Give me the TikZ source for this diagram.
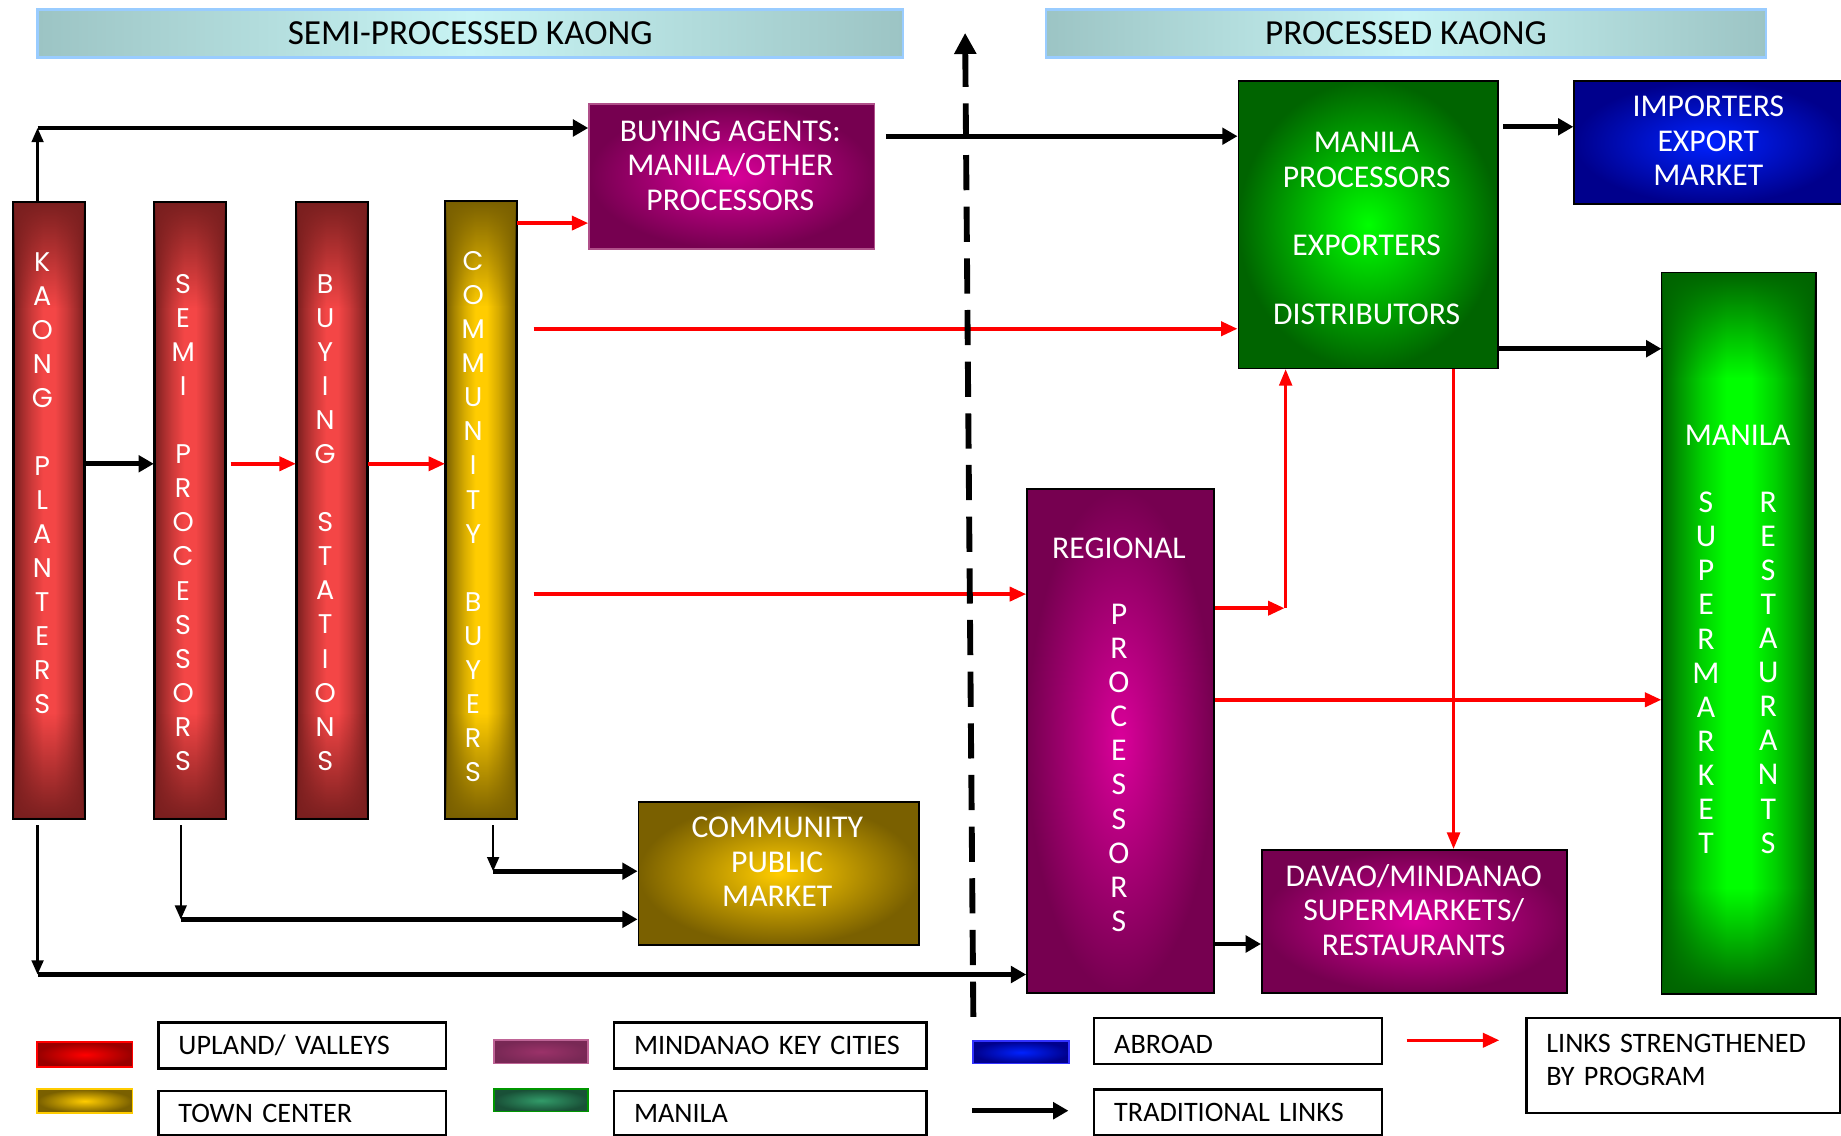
\documentclass[tikz,border=0pt]{standalone}
\usepackage{fontspec}
\setmainfont{Carlito}
\newfontfamily\geofont{Poppins}
\usetikzlibrary{arrows.meta,calc,fadings}
\definecolor{rdark}{HTML}{7A1F1F}
\definecolor{rlight}{HTML}{F44646}
\definecolor{gdark}{HTML}{7A6000}
\definecolor{glight}{HTML}{FFCC00}
\definecolor{mdark}{HTML}{760050}
\definecolor{mlight}{HTML}{DA009A}
\definecolor{grdark}{HTML}{006400}
\definecolor{grlight}{HTML}{00FF00}
\definecolor{bdark}{HTML}{00008C}
\definecolor{blight}{HTML}{0022FF}
\definecolor{hdark}{HTML}{9CC4C4}
\definecolor{hlight}{HTML}{C8F4F4}
\definecolor{hborder}{HTML}{99CCFF}
\definecolor{arrred}{HTML}{FF0000}
\definecolor{agborder}{HTML}{B0508A}
\colorlet{rmA}{rdark!65!rlight}
\colorlet{rmB}{rdark!30!rlight}
\colorlet{gmA}{gdark!65!glight}
\colorlet{gmB}{gdark!30!glight}
\colorlet{grmA}{grdark!65!grlight}
\colorlet{grmB}{grdark!30!grlight}
\pgfdeclarehorizontalshading{redcolsh}{100bp}{color(0bp)=(rdark); color(25bp)=(rdark); color(31bp)=(rmA); color(38bp)=(rmB); color(46bp)=(rlight); color(54bp)=(rlight); color(62bp)=(rmB); color(69bp)=(rmA); color(75bp)=(rdark); color(100bp)=(rdark)}
\pgfdeclarehorizontalshading{goldcolsh}{100bp}{color(0bp)=(gdark); color(25bp)=(gdark); color(31bp)=(gmA); color(38bp)=(gmB); color(46bp)=(glight); color(54bp)=(glight); color(62bp)=(gmB); color(69bp)=(gmA); color(75bp)=(gdark); color(100bp)=(gdark)}
\pgfdeclarehorizontalshading{greencolsh}{100bp}{color(0bp)=(grdark); color(25bp)=(grdark); color(31bp)=(grmA); color(38bp)=(grmB); color(46bp)=(grlight); color(54bp)=(grlight); color(62bp)=(grmB); color(69bp)=(grmA); color(75bp)=(grdark); color(100bp)=(grdark)}
\begin{document}
\begin{tikzpicture}[x=1pt,y=-1pt,
  box/.style={draw=black, line width=1.5pt, inner sep=0pt, anchor=north west},
  hdr/.style={box, draw=hborder, line width=2pt, left color=hdark, right color=hdark, middle color=hlight, font=\fontsize{30}{32}\selectfont},
  redcol/.style={box, shading=redcolsh},
  goldcol/.style={box, shading=goldcolsh},
  magbox/.style={box, inner color=mlight, outer color=mdark},
  greenbox/.style={box, inner color=grlight, outer color=grdark},
  greencol/.style={box, shading=greencolsh},
  bluebox/.style={box, inner color=blight, outer color=bdark},
  goldbox/.style={box, inner color=glight, outer color=gdark},
  vtxt/.style={text=white, align=center, inner sep=0pt, font=\geofont\fontsize{23}{29}\selectfont},
  ctxt/.style={text=white, align=center, inner sep=0pt, font=\fontsize{27}{29}\selectfont},
  btxt/.style={text=white, align=center, inner sep=0pt, font=\fontsize{27}{29.5}\selectfont},
  lgbox/.style={draw=black, line width=2pt, fill=white, anchor=north west, inner xsep=17pt, inner ysep=0pt, align=left, font=\fontsize{24}{28}\selectfont},
  swatch/.style={anchor=north west, inner sep=0pt, line width=1.5pt},
  rim/.style={draw=black, line width=1.5pt},
  blk/.style={draw=black, line width=4pt, -{Triangle[length=13pt,width=14pt]}},
  blkthin/.style={draw=black, line width=2pt, -{Triangle[length=12pt,width=10pt]}},
  redarr/.style={draw=arrred, line width=3pt, -{Triangle[length=14pt,width=12pt]}},
  redthin/.style={draw=arrred, line width=2.2pt, -{Triangle[length=14pt,width=11pt]}},
  divider/.style={draw=black, line width=5pt, dash pattern=on 30pt off 14pt, -{Triangle[length=18pt,width=18pt]}}
]
\useasboundingbox (0,0) rectangle (1568,967);

% headers
\node[hdr, minimum width=737pt, minimum height=41pt] (h1) at (31,7) {SEMI-PROCESSED KAONG};
\node[hdr, minimum width=613pt, minimum height=41pt] (h2) at (890,7) {PROCESSED KAONG};

% columns
\node[redcol, minimum width=60pt, minimum height=524pt] (kp) at (11,172) {};
\node[redcol, minimum width=60pt, minimum height=524pt] (sp) at (131,172) {};
\node[redcol, minimum width=60pt, minimum height=524pt] (bs) at (252,172) {};
\node[goldcol, minimum width=60pt, minimum height=525pt] (cb) at (379,171) {};
\node[greencol, minimum width=130pt, minimum height=613pt] (ms) at (1415,232) {};
\foreach \c/\col in {kp/rdark, sp/rdark, bs/rdark, cb/gdark, ms/grdark} {
  \fill[\col, path fading=south] (\c.north west) rectangle ($(\c.north east)+(0,90)$);
  \fill[\col, path fading=north] (\c.south west) rectangle ($(\c.south east)+(0,-90)$);
  \draw[rim] (\c.north west) rectangle (\c.south east);
}
\node[vtxt] (kpt) at (36,411.5) {K\\A\\O\\N\\G\\[29pt]P\\L\\A\\N\\T\\E\\R\\S};
\node[vtxt] (spt) at (156,445) {S\\E\\M\\I\\[29pt]P\\R\\O\\C\\E\\S\\S\\O\\R\\S};
\node[vtxt] (bst) at (277,445) {B\\U\\Y\\I\\N\\G\\[29pt]S\\T\\A\\T\\I\\O\\N\\S};
\node[vtxt] (cbt) at (403,440) {C\\O\\M\\M\\U\\N\\I\\T\\Y\\[29pt]B\\U\\Y\\E\\R\\S};
\node[ctxt] (mst1) at (1480,371) {MANILA};
\node[ctxt] (mst2) at (1453,573) {S\\U\\P\\E\\R\\M\\A\\R\\K\\E\\T};
\node[ctxt] (mst3) at (1506,573) {R\\E\\S\\T\\A\\U\\R\\A\\N\\T\\S};

% boxes
\node[magbox, draw=agborder, minimum width=243pt, minimum height=123pt] (ag) at (501,88) {};
\node[btxt] (agt) at (622,141) {BUYING AGENTS:\\MANILA/OTHER\\PROCESSORS};
\node[greenbox, minimum width=221pt, minimum height=245pt] (mp) at (1054,68) {};
\node[btxt] (mpt) at (1164,194.5) {MANILA\\PROCESSORS\\[29pt]EXPORTERS\\[29pt]DISTRIBUTORS};
\node[bluebox, minimum width=232pt, minimum height=105pt] (im) at (1340,68) {};
\node[btxt] (imt) at (1455,120) {IMPORTERS\\EXPORT\\MARKET};
\node[magbox, minimum width=159pt, minimum height=429pt] (rp) at (874,416) {};
\node[ctxt] (rpt1) at (953,467) {REGIONAL};
\node[ctxt] (rpt2) at (953,654) {P\\R\\O\\C\\E\\S\\S\\O\\R\\S};
\node[goldbox, minimum width=239pt, minimum height=122pt] (cm) at (543,682) {};
\node[btxt] (cmt) at (662,734) {COMMUNITY\\PUBLIC\\MARKET};
\node[magbox, minimum width=260pt, minimum height=122pt] (dv) at (1074,723) {};
\node[btxt] (dvt) at (1204,775) {DAVAO/MINDANAO\\SUPERMARKETS/\\RESTAURANTS};

% levels
\coordinate (yB) at (0,116);
\coordinate (yC) at (0,108);
\coordinate (yD) at (0,297);
\coordinate (yE) at (0,395);
\coordinate (yF) at (0,190);
\coordinate (yG) at (0,280);
\coordinate (yH) at (0,506);
\coordinate (yJ) at (0,596);
\coordinate (yK) at (0,804);
\coordinate (yO) at (0,703);
\coordinate (xQ) at (1238,0);

% black links
\coordinate (c1) at (32,109);
\draw[blkthin] (kp.north west -| c1) -- (c1);
\draw[blk] (c1) -- (ag.west |- c1);
\draw[blk] ($(ag.east |- yB)+(9,0)$) -- (mp.west |- yB);
\draw[blk] ($(mp.east |- yC)+(4,0)$) -- (im.west |- yC);
\draw[blk] (mp.east |- yD) -- (ms.west |- yD);
\draw[blk] (kp.east |- yE) -- (sp.west |- yE);
\coordinate (c6) at (32,830);
\draw[blkthin] (c6 |- yO) -- (c6);
\draw[blk] (c6) -- (rp.west |- c6);
\coordinate (c7) at (154,783);
\draw[blkthin] (c7 |- yO) -- (c7);
\draw[blk] (c7) -- (cm.west |- c7);
\coordinate (c8) at (420,742);
\draw[blkthin] (c8 |- yO) -- (c8);
\draw[blk] (c8) -- (cm.west |- c8);
\draw[blk] (rp.east |- yK) -- (dv.west |- yK);

% red links
\draw[redarr] ($(sp.east |- yE)+(4,0)$) -- (bs.west |- yE);
\draw[redarr] (bs.east |- yE) -- (cb.west |- yE);
\draw[redarr] (cb.east |- yF) -- (ag.west |- yF);
\draw[redarr] ($(cb.east |- yG)+(14,0)$) -- (mp.west |- yG);
\draw[redarr] ($(cb.east |- yH)+(14,0)$) -- (rp.west |- yH);
\coordinate (c15) at (1095,518);
\draw[redarr] (rp.east |- c15) -- ($(c15)+(-1,0)$);
\draw[redthin] (c15) -- (mp.south -| c15);
\draw[redarr] (rp.east |- yJ) -- (ms.west |- yJ);
\draw[redthin] (mp.south -| xQ) -- (dv.north -| xQ);

% divider
\coordinate (dtop) at (822,28);
\coordinate (dbot) at (829,866);
\draw[divider] (dbot) -- (dtop);

% legend
\node[swatch, draw=red, inner color=red, outer color=red!60!black, minimum width=81pt, minimum height=21pt] (s1) at (31,887) {};
\node[lgbox, minimum height=39pt, text width=211pt] (l1) at (134,870) {UPLAND/ VALLEYS};
\node[swatch, draw=glight, inner color=glight, outer color=gdark, minimum width=81pt, minimum height=20pt] (s2) at (31,927) {};
\node[lgbox, minimum height=38pt, text width=211pt] (l2) at (134,928) {TOWN CENTER};
\node[swatch, draw={rgb,255:red,190;green,100;blue,150}, inner color={rgb,255:red,155;green,50;blue,105}, outer color={rgb,255:red,120;green,40;blue,85}, minimum width=80pt, minimum height=20pt] (s3) at (420,885) {};
\node[lgbox, minimum height=39pt, text width=232pt] (l3) at (522,870) {MINDANAO KEY CITIES};
\node[swatch, draw={rgb,255:red,0;green,150;blue,0}, inner color={rgb,255:red,50;green,155;blue,105}, outer color={rgb,255:red,25;green,80;blue,55}, minimum width=80pt, minimum height=19pt] (s4) at (420,927) {};
\node[lgbox, minimum height=38pt, text width=232pt] (l4) at (522,928) {MANILA};
\node[swatch, draw={rgb,255:red,50;green,50;blue,255}, inner color=blight, outer color=bdark, minimum width=82pt, minimum height=19pt] (s5) at (828,886) {};
\node[lgbox, minimum height=39pt, text width=211pt, text height=21pt] (l5) at (931,866) {ABROAD};
\coordinate (k1) at (828,946);
\coordinate (k2) at (910,946);
\draw[blk] (k1) -- (k2);
\node[lgbox, minimum height=39pt, text width=211pt] (l6) at (931,927) {TRADITIONAL LINKS};
\coordinate (r1) at (1198,886);
\coordinate (r2) at (1277,886);
\draw[redarr] (r1) -- (r2);
\node[lgbox, minimum height=81pt, text width=233pt, text depth=37pt] (l7) at (1299,866) {LINKS STRENGTHENED\\BY PROGRAM};
\end{tikzpicture}
\end{document}
